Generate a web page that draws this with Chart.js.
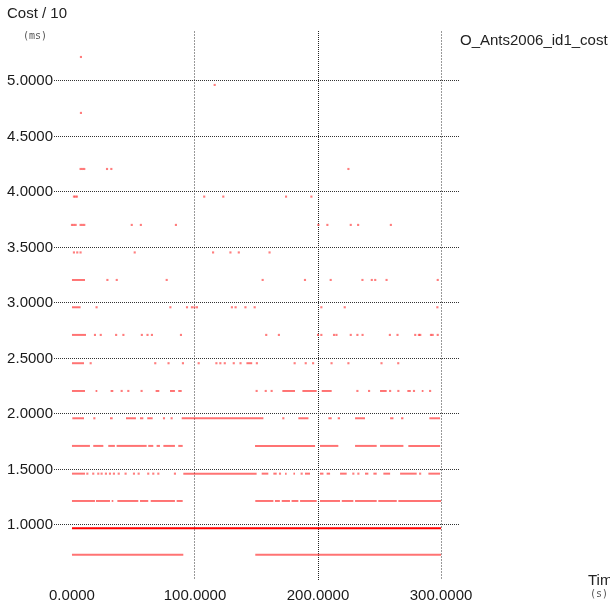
<!DOCTYPE html>
<html>
<head>
<meta charset="utf-8">
<script src="https://cdn.jsdelivr.net/npm/chart.js@4.4.1/dist/chart.umd.min.js"></script>
<style>
  html, body { margin: 0; padding: 0; background: #fff; }
  #wrap { position: relative; width: 610px; height: 602px; }
</style>
</head>
<body>
<div id="wrap"><canvas id="costChart"></canvas></div>
<script>
/* ---------- data ---------- */

const seriesName = "O_Ants2006_id1_cost";
const xTicks = [0, 100, 200, 300];
const yTicks = [1.0, 1.5, 2.0, 2.5, 3.0, 3.5, 4.0, 4.5, 5.0];

// cost levels (one horizontal band each)
const costLevels = [0.732, 0.970, 1.216, 1.462, 1.712, 1.961, 2.207, 2.457, 2.712,
                    2.961, 3.207, 3.455, 3.703, 3.958, 4.207, 4.712, 4.964, 5.216];

// dense runs of samples at each level: [from time, to time]
const runs073 = [[0, 90.5], [149, 300]];
const runs097 = [[0, 300]];
const runs122 = [[0, 18.7], [19.5, 30.9], [32.3, 33.6], [36.9, 53.9], [55.3, 62], [64, 83.7], [85.1, 90],
                 [149, 163.7], [165, 169], [170.5, 177.2], [178.5, 184], [185.4, 198.9], [201.6, 217.9],
                 [219.3, 228.7], [230.1, 247.7], [249, 264], [265.3, 300]];
const runs146 = [[0, 10.6], [90.5, 150.1], [154.2, 159.6], [163.7, 166.4], [173.2, 174.5], [180, 181.3],
                 [189.4, 193.5], [201.6, 204.4], [207, 209.8], [217.9, 223.3], [238.2, 240.9], [245, 247.7],
                 [253.1, 258.6], [266.7, 280.2], [289.7, 299.2]];
const runs171 = [[0, 14.6], [17.3, 25.5], [29.5, 34.9], [36.3, 60.7], [62, 66.1], [68.8, 71.5], [74.3, 83.7],
                 [86.4, 90], [148.8, 197.6], [201.6, 216.5], [230.1, 247.7], [250.4, 269.4], [273.4, 299.2]];
const runs196 = [[0.3, 9.8], [30.9, 33.1], [43.9, 52], [55.3, 58], [61.2, 65.6], [89.2, 155.6], [184, 192.2],
                 [208.4, 211.1], [216, 217.9], [230.1, 238.2], [258.6, 261.3], [267.5, 269.4], [290.5, 299.2]];
const runs221 = [[0, 10.6], [19.2, 20.6], [31.4, 33.6], [68, 71], [79.7, 83.7], [86.4, 89.2], [171, 181.3],
                 [187.3, 198.9], [203, 211.1], [250.4, 255.8], [272.6, 275.4], [284.3, 285.7]];
const runs246 = [[0, 9.8], [141.8, 146.5]];
const runs271 = [[0, 11.4]];
const runs296 = [[0, 7]];
const runs321 = [[0, 10.6]];

// single samples at each level: time values
const dots146 = [12.5, 17.3, 21.4, 24.1, 27.6, 30.9, 34.1, 38, 43.6, 50.4, 54.2, 62, 66.1, 70.2, 83.7,
                 169.1, 186.7, 228.7, 232.8, 283];
const dots196 = [18.2, 74.8, 81, 171.8];
const dots221 = [40.4, 45.8, 56.6, 150.1, 157.5, 162.3, 232, 241.5, 258.6, 265.3, 278, 291.1];
const dots246 = [15.2, 67.7, 78.5, 90.2, 103, 117.4, 120.6, 124.2, 131.5, 137, 150.3, 181, 190, 196,
                 211, 224.7, 251.6, 265.2];
const dots271 = [18.7, 23.4, 35.9, 41.8, 56.8, 61.4, 65, 88.6, 157.9, 168.2, 200, 202.7, 213, 215, 226.6,
                 232, 236.2, 258.4, 264.6, 279, 282, 283.1, 291.8, 293.2, 297.3];
const dots296 = [20, 80, 93.5, 97.5, 99.5, 101.6, 130, 133, 141, 148.5, 202.7, 221.7, 297];
const dots321 = [28.8, 36.4, 77, 155, 189.4, 210.3, 236.1, 243.7, 246.5, 255.7, 297.3];
const dots346 = [1.6, 4.3, 7, 51, 114.7, 128.8, 135.6, 160.6];
const dots370 = [0, 1.5, 3, 7, 8.5, 10, 48.6, 56, 84.5, 200.3, 207.6, 226.6, 232.6, 259.2];
const dots396 = [1.6, 2.8, 4, 107.5, 123, 174, 194.6];
const dots421 = [7, 8.5, 10, 28.5, 32, 224.7];
const dots471 = [7.3];
const dots496 = [116];
const dots522 = [7.3];

const levelRuns = [runs073, runs097, runs122, runs146, runs171, runs196, runs221, runs246, runs271,
                   runs296, runs321, [], [], [], [], [], [], []];
const levelDots = [[], [], [], dots146, [], dots196, dots221, dots246, dots271,
                   dots296, dots321, dots346, dots370, dots396, dots421, dots471, dots496, dots522];

/* ---------- datasets ---------- */

const datasets = [];

costLevels.forEach((cost, i) => {
    const strong = i === 1; // the 0.97 band is saturated red
    levelRuns[i].forEach(r => {
        datasets.push({
            data: [{ x: r[0], y: cost }, { x: r[1], y: cost }],
            showLine: true,
            borderColor: strong ? "rgba(255,0,0,1)" : "rgba(255,0,0,0.55)",
            borderWidth: 2,
            pointRadius: 0
        });
    });
});

const dotPoints = [];
costLevels.forEach((cost, i) => {
    levelDots[i].forEach(t => dotPoints.push({ x: t, y: cost }));
});

datasets.push({
    data: dotPoints,
    showLine: false,
    pointStyle: "rect",
    pointRadius: 1.5,
    borderWidth: 0,
    backgroundColor: "rgba(255,40,40,0.6)"
});

/* ---------- extra text ---------- */

const textLayer = {
    id: "textLayer",
    afterDraw: (chart) => {
        const ctx = chart.ctx;
        ctx.save();
        ctx.textBaseline = "alphabetic";
        ctx.textAlign = "left";

        ctx.fillStyle = "#222";
        ctx.font = "15px 'Liberation Sans', Arial, sans-serif";
        ctx.fillText("Cost / 10", 7, 18);
        ctx.fillText(seriesName, 460, 45);
        ctx.fillText("Tim", 588, 585);

        ctx.fillStyle = "#555";
        ctx.font = "10px 'DejaVu Sans Mono', monospace";
        ctx.fillText("(ms)", 23, 39);
        ctx.fillText("(s)", 590, 597);
        ctx.restore();
    }
};

/* ---------- chart ---------- */

const ctx = document.getElementById("costChart").getContext("2d");

new Chart(ctx, {
    type: "scatter",
    data: { datasets },
    options: {
        responsive: true,
        maintainAspectRatio: false,
        animation: false,
        events: [],
        layout: { padding: { left: 0, top: 31, right: 150, bottom: 0 } },
        plugins: {
            legend: { display: false },
            tooltip: { enabled: false }
        },
        scales: {
            x: {
                type: "linear",
                min: -14.6,
                max: 315.4,
                afterBuildTicks: (s) => { s.ticks = xTicks.map(v => ({ value: v })); },
                afterFit: (s) => { s.height = 22; },
                border: {
                    display: false,
                    dash: (c) => (c.tick && c.tick.value === 200) ? [1, 1] : [2, 1]
                },
                grid: {
                    drawTicks: false,
                    lineWidth: 1,
                    color: (c) => {
                        if (!c.tick || c.tick.value === 0) return "rgba(0,0,0,0)";
                        return c.tick.value === 200 ? "#222" : "#999";
                    }
                },
                ticks: {
                    padding: 7,
                    color: "#1a1a1a",
                    font: { family: "'Liberation Sans', Arial, sans-serif", size: 15 },
                    callback: (v) => Number(v).toFixed(4)
                }
            },
            y: {
                type: "linear",
                min: 0.504,
                max: 5.45,
                afterBuildTicks: (s) => { s.ticks = yTicks.map(v => ({ value: v })); },
                afterFit: (s) => { s.width = 54; },
                border: { display: false, dash: [1, 1] },
                grid: {
                    drawTicks: false,
                    lineWidth: 1,
                    color: "#333"
                },
                ticks: {
                    padding: 1,
                    color: "#1a1a1a",
                    font: { family: "'Liberation Sans', Arial, sans-serif", size: 15 },
                    callback: (v) => Number(v).toFixed(4)
                }
            }
        }
    },
    plugins: [textLayer]
});
</script>
</body>
</html>
